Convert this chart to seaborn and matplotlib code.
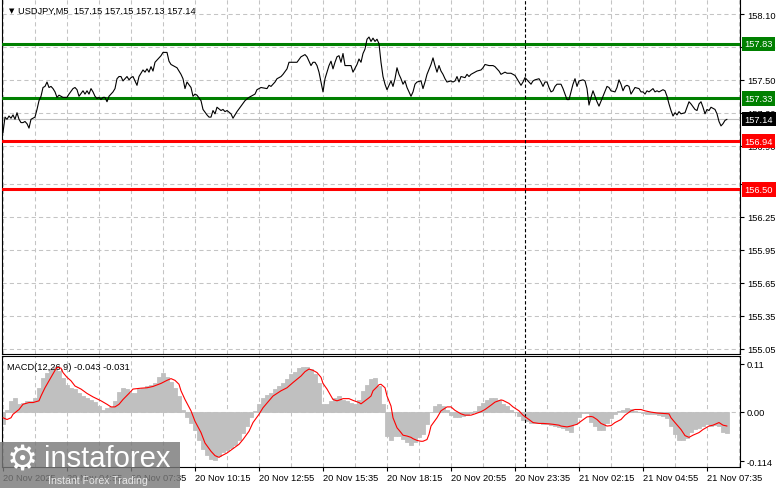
import matplotlib
matplotlib.use("Agg")
import matplotlib.pyplot as plt
import seaborn as sns
from matplotlib.patches import Rectangle
import matplotlib.transforms as mtransforms

# USDJPY M5 closes (bar 0 = 20 Nov 02:15)
price_bar = [0, 1, 2, 3, 4, 5, 6, 7, 8, 9, 10, 11, 12, 13, 14, 15, 16, 17, 18, 19, 20, 21, 22, 23, 24, 25, 26, 27, 28, 30,
             31, 32, 33, 35, 36, 37, 38, 40, 41, 42, 43, 44, 45, 46, 47, 48, 49, 50, 51, 52, 53, 55, 56, 57, 58, 59, 60, 62, 63, 64,
             65, 66, 67, 68, 70, 71, 72, 73, 74, 75, 76, 78, 79, 80, 82, 83, 84, 85, 87, 88, 89, 90, 91, 92, 94, 95, 96, 97, 99, 100,
             102, 103, 104, 105, 106, 107, 109, 110, 111, 112, 114, 115, 117, 119, 121, 123, 126, 127, 129, 132, 133, 134, 136, 137, 139, 140, 142, 143, 145, 147,
             149, 151, 152, 153, 154, 155, 156, 157, 158, 159, 160, 161, 162, 163, 164, 165, 166, 167, 168, 169, 170, 171, 172, 174, 175, 177, 178, 179, 180, 181,
             182, 183, 184, 185, 186, 187, 188, 189, 190, 191, 192, 193, 194, 195, 196, 197, 198, 199, 200, 201, 202, 204, 205, 206, 207, 209, 210, 211, 212, 214,
             215, 216, 217, 218, 219, 220, 221, 222, 224, 225, 226, 227, 228, 229, 231, 232, 233, 234, 236, 237, 239, 240, 241, 243, 245, 246, 248, 249, 251, 252,
             254, 256, 257, 258, 259, 260, 261, 263, 264, 265, 266, 268, 269, 270, 271, 272, 273, 274, 275, 276, 277, 279, 280, 282, 283, 285, 286, 287, 288, 290,
             291, 292, 293, 294, 295, 296, 297, 298, 300, 302, 303, 304, 306, 307, 308, 309, 310, 311, 312, 313, 314, 315, 316, 318, 319, 320, 321, 322, 323, 325,
             326, 327, 328, 330, 331, 332, 333, 334, 335, 336, 337, 338, 339, 341, 342, 343, 344, 346, 347, 348, 349, 350, 351, 352, 353, 354, 356, 357, 358, 359,
             360, 361, 362]
price_close = [157.02, 157.16, 157.14, 157.17, 157.15, 157.18, 157.14, 157.20, 157.14, 157.11, 157.11, 157.12, 157.10, 157.06, 157.14, 157.15, 157.16, 157.23, 157.31, 157.35, 157.43, 157.44, 157.48, 157.43, 157.44, 157.42, 157.39, 157.34, 157.36, 157.34,
               157.34, 157.34, 157.37, 157.42, 157.43, 157.41, 157.35, 157.40, 157.37, 157.40, 157.37, 157.42, 157.39, 157.35, 157.33, 157.34, 157.32, 157.34, 157.34, 157.30, 157.35, 157.39, 157.42, 157.51, 157.53, 157.53, 157.49, 157.53, 157.50, 157.52,
               157.53, 157.49, 157.45, 157.53, 157.59, 157.57, 157.60, 157.57, 157.62, 157.58, 157.66, 157.70, 157.72, 157.75, 157.75, 157.67, 157.64, 157.63, 157.61, 157.58, 157.55, 157.51, 157.42, 157.48, 157.43, 157.35, 157.37, 157.36, 157.31, 157.23,
               157.18, 157.16, 157.16, 157.22, 157.19, 157.25, 157.22, 157.23, 157.21, 157.22, 157.19, 157.15, 157.21, 157.26, 157.31, 157.34, 157.37, 157.41, 157.43, 157.42, 157.45, 157.44, 157.48, 157.51, 157.53, 157.55, 157.60, 157.66, 157.66, 157.66,
               157.71, 157.73, 157.71, 157.67, 157.63, 157.66, 157.66, 157.63, 157.57, 157.48, 157.39, 157.51, 157.57, 157.63, 157.67, 157.60, 157.66, 157.71, 157.72, 157.66, 157.74, 157.63, 157.63, 157.63, 157.57, 157.64, 157.69, 157.66, 157.74, 157.78,
               157.87, 157.89, 157.85, 157.88, 157.85, 157.87, 157.83, 157.66, 157.53, 157.46, 157.41, 157.45, 157.49, 157.44, 157.51, 157.61, 157.55, 157.51, 157.46, 157.49, 157.43, 157.35, 157.39, 157.46, 157.48, 157.49, 157.42, 157.48, 157.55, 157.64,
               157.70, 157.63, 157.57, 157.63, 157.58, 157.55, 157.51, 157.48, 157.49, 157.48, 157.49, 157.53, 157.48, 157.53, 157.52, 157.55, 157.53, 157.55, 157.57, 157.58, 157.59, 157.61, 157.64, 157.63, 157.63, 157.62, 157.58, 157.55, 157.57, 157.56,
               157.56, 157.54, 157.51, 157.48, 157.45, 157.48, 157.52, 157.48, 157.46, 157.49, 157.50, 157.51, 157.48, 157.44, 157.48, 157.48, 157.43, 157.39, 157.40, 157.44, 157.46, 157.46, 157.42, 157.32, 157.32, 157.46, 157.51, 157.44, 157.49, 157.50,
               157.49, 157.42, 157.27, 157.34, 157.40, 157.35, 157.30, 157.26, 157.35, 157.44, 157.43, 157.40, 157.39, 157.43, 157.50, 157.46, 157.40, 157.44, 157.45, 157.44, 157.37, 157.40, 157.43, 157.42, 157.39, 157.39, 157.37, 157.40, 157.39, 157.42,
               157.39, 157.40, 157.39, 157.41, 157.40, 157.35, 157.28, 157.22, 157.17, 157.20, 157.18, 157.21, 157.19, 157.20, 157.25, 157.30, 157.28, 157.23, 157.22, 157.28, 157.30, 157.25, 157.19, 157.23, 157.22, 157.25, 157.23, 157.19, 157.12, 157.08,
               157.10, 157.13, 157.14]

# MACD(12,26,9) main histogram, every second bar
hist_bar = list(range(0, 363, 2))
macd_hist = [-0.029, 0.005, 0.025, 0.032, 0.018, 0.021, 0.025, 0.025, 0.031, 0.055, 0.077, 0.090, 0.098, 0.102, 0.094, 0.077, 0.062, 0.055, 0.052, 0.044,
             0.036, 0.032, 0.028, 0.023, 0.013, 0.005, 0.008, 0.011, 0.025, 0.046, 0.054, 0.052, 0.044, 0.042, 0.052, 0.055, 0.059, 0.061, 0.067, 0.080,
             0.088, 0.079, 0.069, 0.055, 0.036, 0.005, -0.012, -0.025, -0.041, -0.066, -0.085, -0.099, -0.109, -0.112, -0.102, -0.092, -0.087, -0.083, -0.077, -0.066,
             -0.050, -0.032, -0.012, 0.002, 0.018, 0.032, 0.038, 0.044, 0.052, 0.058, 0.065, 0.075, 0.086, 0.092, 0.100, 0.103, 0.103, 0.098, 0.086, 0.067,
             0.018, 0.018, 0.025, 0.032, 0.036, 0.028, 0.025, 0.021, 0.017, 0.028, 0.048, 0.062, 0.075, 0.077, 0.059, 0.017, -0.056, -0.066, -0.056, -0.056,
             -0.062, -0.069, -0.077, -0.069, -0.059, -0.052, -0.029, 0.000, 0.013, 0.017, 0.013, 0.004, -0.008, -0.012, -0.012, -0.010, -0.008, -0.004, 0.002, 0.013,
             0.021, 0.028, 0.031, 0.032, 0.026, 0.017, 0.013, 0.005, 0.000, -0.010, -0.020, -0.022, -0.025, -0.025, -0.025, -0.028, -0.029, -0.031, -0.033, -0.035,
             -0.038, -0.041, -0.046, -0.028, -0.012, -0.003, -0.002, -0.024, -0.033, -0.041, -0.043, -0.025, -0.014, -0.005, 0.002, 0.005, 0.009, 0.006, 0.002, 0.000,
             -0.002, -0.005, -0.005, -0.006, -0.008, -0.010, -0.015, -0.033, -0.052, -0.064, -0.066, -0.060, -0.046, -0.040, -0.037, -0.032, -0.029, -0.033, -0.031, -0.033,
             -0.046, -0.048]

# signal line
signal_bar = [0, 2, 4, 5, 8, 10, 13, 15, 18, 19, 21, 24, 26, 27, 29, 30, 32, 34, 36, 39, 42, 45, 49, 52, 54, 56, 58, 60, 63, 65,
              69, 72, 75, 79, 82, 84, 86, 88, 89, 91, 94, 96, 99, 101, 104, 106, 108, 109, 112, 115, 118, 120, 123, 125, 128, 130, 133, 135, 139, 142,
              145, 149, 151, 153, 155, 157, 159, 160, 162, 164, 165, 167, 169, 170, 173, 175, 178, 179, 181, 183, 184, 185, 187, 188, 189, 191, 192, 194, 195, 197,
              199, 200, 202, 204, 205, 207, 209, 210, 212, 213, 214, 217, 219, 222, 224, 226, 229, 231, 234, 236, 239, 241, 244, 246, 249, 250, 253, 255, 258, 260,
              263, 265, 268, 270, 273, 275, 278, 279, 282, 284, 287, 289, 292, 294, 295, 297, 299, 302, 304, 306, 309, 311, 314, 316, 319, 321, 324, 327, 330, 333,
              334, 336, 339, 341, 343, 345, 348, 350, 353, 355, 358, 360, 362]
signal_val = [-0.014, -0.018, -0.014, -0.006, 0.005, 0.017, 0.021, 0.021, 0.025, 0.036, 0.055, 0.079, 0.095, 0.102, 0.100, 0.090, 0.079, 0.071, 0.059, 0.052,
              0.042, 0.034, 0.025, 0.017, 0.011, 0.011, 0.017, 0.028, 0.042, 0.052, 0.054, 0.055, 0.058, 0.065, 0.072, 0.076, 0.072, 0.063, 0.048, 0.028,
              0.002, -0.022, -0.048, -0.072, -0.091, -0.101, -0.105, -0.102, -0.095, -0.085, -0.075, -0.064, -0.045, -0.025, -0.006, 0.009, 0.025, 0.036, 0.048, 0.055,
              0.067, 0.082, 0.092, 0.098, 0.095, 0.090, 0.079, 0.065, 0.052, 0.036, 0.028, 0.025, 0.028, 0.030, 0.030, 0.026, 0.021, 0.018, 0.025, 0.032,
              0.036, 0.048, 0.057, 0.062, 0.063, 0.055, 0.036, 0.013, -0.014, -0.037, -0.048, -0.054, -0.056, -0.059, -0.062, -0.066, -0.068, -0.068, -0.064, -0.052,
              -0.033, -0.014, 0.002, 0.011, 0.011, 0.003, -0.005, -0.008, -0.008, -0.005, 0.000, 0.005, 0.015, 0.022, 0.027, 0.026, 0.019, 0.011, 0.002, -0.008,
              -0.018, -0.025, -0.027, -0.027, -0.028, -0.029, -0.031, -0.033, -0.035, -0.033, -0.029, -0.022, -0.012, -0.011, -0.012, -0.018, -0.027, -0.033, -0.032, -0.025,
              -0.018, -0.008, 0.002, 0.005, 0.005, 0.002, -0.001, -0.003, -0.004, -0.005, -0.014, -0.025, -0.041, -0.055, -0.059, -0.054, -0.048, -0.041, -0.033, -0.031,
              -0.025, -0.031, -0.033]

green_levels = [157.83, 157.33]
red_levels = [156.94, 156.50]
last_price = 157.14
day_split = 261

price_ticks = [158.10, 157.80, 157.50, 157.20, 156.90, 156.55, 156.25, 155.95, 155.65, 155.35, 155.05]
macd_ticks = [0.11, 0.00, -0.114]
macd_tick_labels = ["0.11", "0.00", "-0.114"]
time_labels = ["20 Nov 2025", "20 Nov 04:55", "20 Nov 07:35", "20 Nov 10:15", "20 Nov 12:55", "20 Nov 15:35",
               "20 Nov 18:15", "20 Nov 20:55", "20 Nov 23:35", "21 Nov 02:15", "21 Nov 04:55", "21 Nov 07:35"]

sns.set_theme(style="white")
plt.rcParams['font.family'] = ['Liberation Sans', 'DejaVu Sans']
FS = 6.7
GRID = dict(color='#c4c4c4', linestyle=(0, (4, 3)), linewidth=0.75)

W, H = 781, 489
fig = plt.figure(figsize=(W / 100, H / 100), dpi=100)
left, right = 2 / W, 740 / W
ax = fig.add_axes([left, 1 - 355 / H, right - left, 355 / H])
ax2 = fig.add_axes([left, 1 - 467.5 / H, right - left, (467.5 - 357) / H])

# ---- price panel
sns.lineplot(x=price_bar, y=price_close, ax=ax, color='black', linewidth=0.8, zorder=4)
for lv in green_levels:
    ax.axhline(lv, color='#008000', linewidth=2.2, zorder=3)
for lv in red_levels:
    ax.axhline(lv, color='#ff0000', linewidth=2.2, zorder=3)
ax.axhline(last_price, color='#c0c0c0', linewidth=0.8, zorder=2)
ax.axvline(day_split, color='black', linestyle=(0, (3, 2)), linewidth=0.8, zorder=3)

ax.set_xlim(-0.5, 368.5)
ax.set_ylim(155.0, 158.237)
ax.set_xticks(range(0, 369, 16))
ax.set_yticks(price_ticks)
ax.set_yticklabels([f"{v:.2f}" for v in price_ticks])
ax.yaxis.tick_right()
ax.tick_params(axis='y', right=True, left=False, length=3, width=0.8, pad=2, labelsize=FS, colors='black')
ax.tick_params(axis='x', bottom=False, labelbottom=False)
ax.grid(True, **GRID)
ax.set_axisbelow(True)
ax.set_xlabel('')
ax.set_ylabel('')
for s in ['left', 'right', 'bottom']:
    ax.spines[s].set_color('black')
    ax.spines[s].set_linewidth(0.8)
ax.spines['top'].set_visible(False)

# price tags on the right scale
tag_tr = mtransforms.blended_transform_factory(ax.transAxes, ax.transData)
tags = [(v, '#008000') for v in green_levels] + [(v, '#ff0000') for v in red_levels] + [(last_price, 'black')]
for v, c in tags:
    ax.text(1.006, v, f"{v:.2f}", transform=tag_tr, ha='left', va='center', fontsize=FS, color='white',
            bbox=dict(boxstyle='square,pad=0.28', facecolor=c, edgecolor='none'), clip_on=False, zorder=6)

fig.text(9 / W, 1 - 11 / H, "\u25bc", fontsize=5, family='DejaVu Sans', color='black', va='center')
fig.text(18 / W, 1 - 11 / H, "USDJPY,M5  157.15 157.15 157.13 157.14", fontsize=FS, color='black', va='center')

# ---- MACD panel
ax2.bar(hist_bar, macd_hist, width=2.0, color='#c0c0c0', edgecolor='#c0c0c0', linewidth=0.6, zorder=2)
sns.lineplot(x=signal_bar, y=signal_val, ax=ax2, color='#ff0000', linewidth=0.8, zorder=4)
ax2.axhline(0, **GRID, zorder=1)
ax2.axvline(day_split, color='black', linestyle=(0, (3, 2)), linewidth=0.8, zorder=3)
ax2.set_xlim(-0.5, 368.5)
ax2.set_ylim(-0.126, 0.128)
ax2.set_xticks(range(0, 353, 32))
ax2.set_xticklabels(time_labels, ha='left')
ax2.set_xticks(range(16, 369, 32), minor=True)
ax2.set_yticks(macd_ticks)
ax2.set_yticklabels(macd_tick_labels)
ax2.yaxis.tick_right()
ax2.tick_params(axis='y', right=True, left=False, length=3, width=0.8, pad=2, labelsize=FS, colors='black')
ax2.tick_params(axis='x', which='major', bottom=True, length=3, width=0.8, pad=2, labelsize=FS, colors='black')
ax2.tick_params(axis='x', which='minor', bottom=False, length=0)
ax2.grid(True, which='both', axis='x', **GRID)
ax2.grid(False, axis='y')
ax2.set_axisbelow(True)
ax2.set_xlabel('')
ax2.set_ylabel('')
for s in ax2.spines.values():
    s.set_color('black')
    s.set_linewidth(0.8)
ax2.text(5 / 738, 1 - 10 / 110.5, "MACD(12,26,9) -0.043 -0.031", transform=ax2.transAxes, fontsize=FS,
         color='black', va='center', ha='left')

# ---- watermark
fig.add_artist(Rectangle((0, 0), 180 / W, 46 / H, transform=fig.transFigure, facecolor='#7a7a7a',
                         edgecolor='none', alpha=0.82, zorder=10))
fig.text(7 / W, 1 - 461 / H, "\u2699", fontsize=25, family='DejaVu Sans', color='white', va='center', zorder=11)
fig.text(44 / W, 1 - 459 / H, "instaforex", fontsize=21, color='white', va='center', zorder=11)
fig.text(48 / W, 1 - 481 / H, "Instant Forex Trading", fontsize=7.6, color='#e8e8e8', va='center', zorder=11)

fig.savefig("out.png", dpi=100, facecolor='white')
